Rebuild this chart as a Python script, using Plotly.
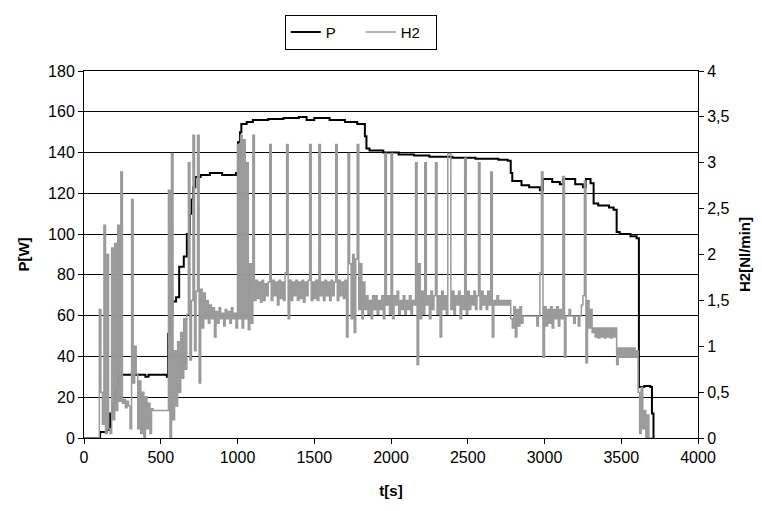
import plotly.graph_objects as go

# ---- P [W] (step breakpoints) ----
p_t = [0, 105, 150, 170, 185, 205, 220, 230, 400, 420, 540, 548, 560, 575, 600, 620, 650,
       670, 690, 700, 710, 725, 760, 820, 900, 990, 1003, 1016, 1025, 1060, 1100, 1200,
       1300, 1400, 1450, 1500, 1600, 1700, 1780, 1830, 1840, 1860, 1950, 2050, 2150, 2250,
       2400, 2550, 2700, 2760, 2780, 2790, 2850, 2900, 2970, 2990, 3050, 3100, 3120, 3200,
       3250, 3270, 3300, 3320, 3350, 3420, 3450, 3470, 3490, 3560, 3600, 3615, 3650, 3690,
       3700, 3710]
p_w = [0, 3, 4, 12, 17, 24, 30, 31, 30, 31, 30, 51, 60, 67, 69, 84, 89,
       100, 110, 117, 123, 128, 129, 130, 129, 130, 145, 150, 154, 155, 156, 156.5,
       157, 157.5, 156, 157, 156, 155, 154, 148, 142, 141, 140, 139, 138.5, 138,
       137.5, 137, 136.5, 136, 130, 126, 124, 123, 121.5, 127, 125.5, 124.5, 127, 124.5,
       123, 127, 125, 115, 114, 113, 112, 101, 100, 99, 98, 25, 25.5, 25,
       12, 0]

# ---- H2 [Nl/min], sampled every 10 s from t = 0 ----
h2_step = 10
h2_v = (
    [0, 0, 0, 0, 0, 0, 0, 0, 0, 0] +                                  # 0-90
    [1.4, 0.5, 0.15, 2.32, 0.05, 2.0, 0.1, 0.05, 2.07, 0.2] +         # 100-190
    [2.12, 0.3, 2.32, 0.4, 2.9, 0.38, 0.42, 0.33, 0.4, 0.35] +        # 200-290
    [0.1, 2.6, 0.6, 1.0, 0.7, 0.1, 0.62, 0.05, 0.5, 0.0] +            # 300-390
    [0.45, 0.1, 0.38, 0.05, 0.32, 0.3, 0.3, 0.3, 0.3, 0.3] +          # 400-490
    [0.3, 0.3, 0.3, 0.3, 0.3, 2.7, 0.0, 3.1, 0.2, 0.95] +             # 500-590
    [0.35, 1.05, 0.5, 1.15, 0.65, 1.3, 0.75, 1.35, 3.0, 0.85] +       # 600-690
    [1.5, 3.3, 0.95, 1.6, 3.3, 0.6, 1.62, 1.2, 1.58, 1.3] +           # 700-790
    [1.5, 1.25, 1.45, 1.3, 1.42, 1.1, 1.38, 1.25, 1.42, 1.3] +        # 800-890
    [1.36, 1.22, 1.4, 1.3, 1.38, 1.25, 1.42, 1.3, 1.36, 1.2] +        # 900-990
    [3.2, 1.3, 3.3, 1.2, 3.25, 1.3, 3.0, 1.18, 1.9, 1.25] +           # 1000-1090
    [3.3, 1.5, 1.72, 1.52, 1.7, 1.48, 1.72, 1.5, 1.68, 1.55] +        # 1100-1190
    [1.7, 3.2, 1.5, 1.72, 1.55, 1.7, 1.45, 1.72, 1.52, 1.7] +         # 1200-1290
    [1.5, 1.8, 3.2, 1.3, 1.72, 1.5, 1.7, 1.55, 1.72, 1.5] +           # 1300-1390
    [1.7, 1.52, 1.72, 1.48, 1.7, 1.55, 1.72, 3.2, 1.5, 1.7] +         # 1400-1490
    [1.52, 1.72, 1.5, 3.2, 1.55, 1.7, 1.5, 1.72, 1.55, 1.7] +         # 1500-1590
    [1.5, 1.72, 1.55, 1.7, 3.2, 1.5, 1.72, 1.55, 1.7, 1.52] +         # 1600-1690
    [1.72, 1.1, 3.1, 1.9, 1.3, 2.0, 1.15, 1.95, 3.2, 1.4] +           # 1700-1790
    [1.9, 1.3, 1.7, 1.4, 1.55, 1.35, 1.5, 1.3, 1.55, 1.4] +           # 1800-1890
    [1.55, 1.35, 1.5, 1.4, 1.55, 1.3, 3.1, 1.45, 1.55, 1.35] +        # 1900-1990
    [3.1, 1.3, 1.55, 1.45, 1.6, 1.35, 1.5, 1.4, 1.55, 1.35] +         # 2000-2090
    [1.5, 1.4, 1.55, 1.35, 1.5, 1.45, 3.0, 0.8, 1.9, 1.3] +           # 2100-2190
    [1.6, 1.35, 3.0, 1.45, 1.55, 1.3, 1.6, 1.4, 1.55, 3.0] +          # 2200-2290
    [1.35, 1.55, 1.1, 1.6, 1.4, 1.55, 1.35, 3.1, 3.1, 1.4] +          # 2300-2390
    [1.6, 1.35, 1.55, 1.45, 1.6, 1.3, 1.55, 1.4, 3.05, 1.35] +        # 2400-2490
    [1.6, 1.4, 1.55, 1.45, 1.6, 1.4, 1.55, 3.0, 1.4, 1.6] +           # 2500-2590
    [1.45, 1.55, 1.4, 1.6, 1.45, 2.9, 1.1, 1.5, 1.45, 1.55] +         # 2600-2690
    [1.45, 1.5, 1.45, 1.5, 1.45, 1.5, 1.45, 1.5, 1.3, 1.2] +          # 2700-2790
    [1.43, 1.1, 1.4, 1.22, 1.43, 1.25, 1.33, 1.33, 1.33, 1.33] +      # 2800-2890
    [1.33, 1.33, 1.33, 1.33, 1.33, 1.22, 1.33, 1.8, 2.9, 0.88] +      # 2900-2990
    [1.43, 1.22, 1.4, 1.25, 1.43, 1.2, 1.4, 1.3, 1.43, 1.22] +        # 3000-3090
    [1.4, 1.3, 2.85, 0.88, 1.33, 1.33, 1.4, 1.33, 1.33, 1.25] +       # 3100-3190
    [1.33, 1.33, 1.22, 1.33, 1.45, 1.55, 2.8, 0.82, 1.5, 1.2] +       # 3200-3290
    [1.4, 1.15, 1.2, 1.1, 1.2, 1.09, 1.2, 1.1, 1.2, 1.09] +           # 3300-3390
    [1.2, 1.1, 1.2, 1.09, 1.2, 1.1, 1.2, 0.8, 0.98, 0.88] +           # 3400-3490
    [0.98, 0.88, 0.98, 0.88, 0.98, 0.88, 0.98, 0.88, 0.98, 0.88] +    # 3500-3590
    [0.95, 0.5, 0.05, 0.55, 0.1, 0.3, 0.0, 0.25, 0.0, 0.0] +          # 3600-3690
    [0]                                                               # 3700
)
h2_t = [i * h2_step for i in range(len(h2_v))]

x_ticks = [0, 500, 1000, 1500, 2000, 2500, 3000, 3500, 4000]

fig = go.Figure()
fig.add_trace(go.Scatter(x=p_t, y=p_w, name="P", mode="lines",
                         line=dict(color="black", width=2, shape="hv"), yaxis="y"))
fig.add_trace(go.Scatter(x=h2_t, y=h2_v, name="H2", mode="lines",
                         line=dict(color="#999999", width=1.5, shape="hv"), yaxis="y2"))

axis_common = dict(showline=True, linecolor="black", linewidth=1, ticks="outside",
                   ticklen=5, tickcolor="black", zeroline=False,
                   tickfont=dict(size=16, color="black"))

fig.update_layout(
    width=754, height=503,
    margin=dict(l=76, r=64, t=63, b=73, autoexpand=False),
    paper_bgcolor="white", plot_bgcolor="white",
    font=dict(family="Liberation Sans, Arial, sans-serif", size=14, color="black"),
    separators=", ",
    showlegend=True,
    legend=dict(orientation="h", x=0.327, y=1.153, xanchor="left", yanchor="top",
                bordercolor="black", borderwidth=1, bgcolor="white",
                font=dict(size=15), entrywidth=30, tracegroupgap=0),
    xaxis=dict(range=[0, 4000], tickvals=x_ticks, showgrid=False, mirror=True,
               title=dict(text="<b>t[s]</b>", standoff=20, font=dict(size=15)),
               **axis_common),
    yaxis=dict(range=[0, 180], dtick=20, tick0=0, showgrid=True, gridcolor="black",
               gridwidth=1,
               title=dict(text="<b>P[W]</b>", standoff=14, font=dict(size=15)),
               **axis_common),
    yaxis2=dict(range=[0, 4], dtick=0.5, tick0=0, overlaying="y", side="right",
                showgrid=False,
                title=dict(text="<b>H2[Nl/min]</b>", standoff=10, font=dict(size=15)),
                **axis_common),
)

fig.write_html("out.html")
